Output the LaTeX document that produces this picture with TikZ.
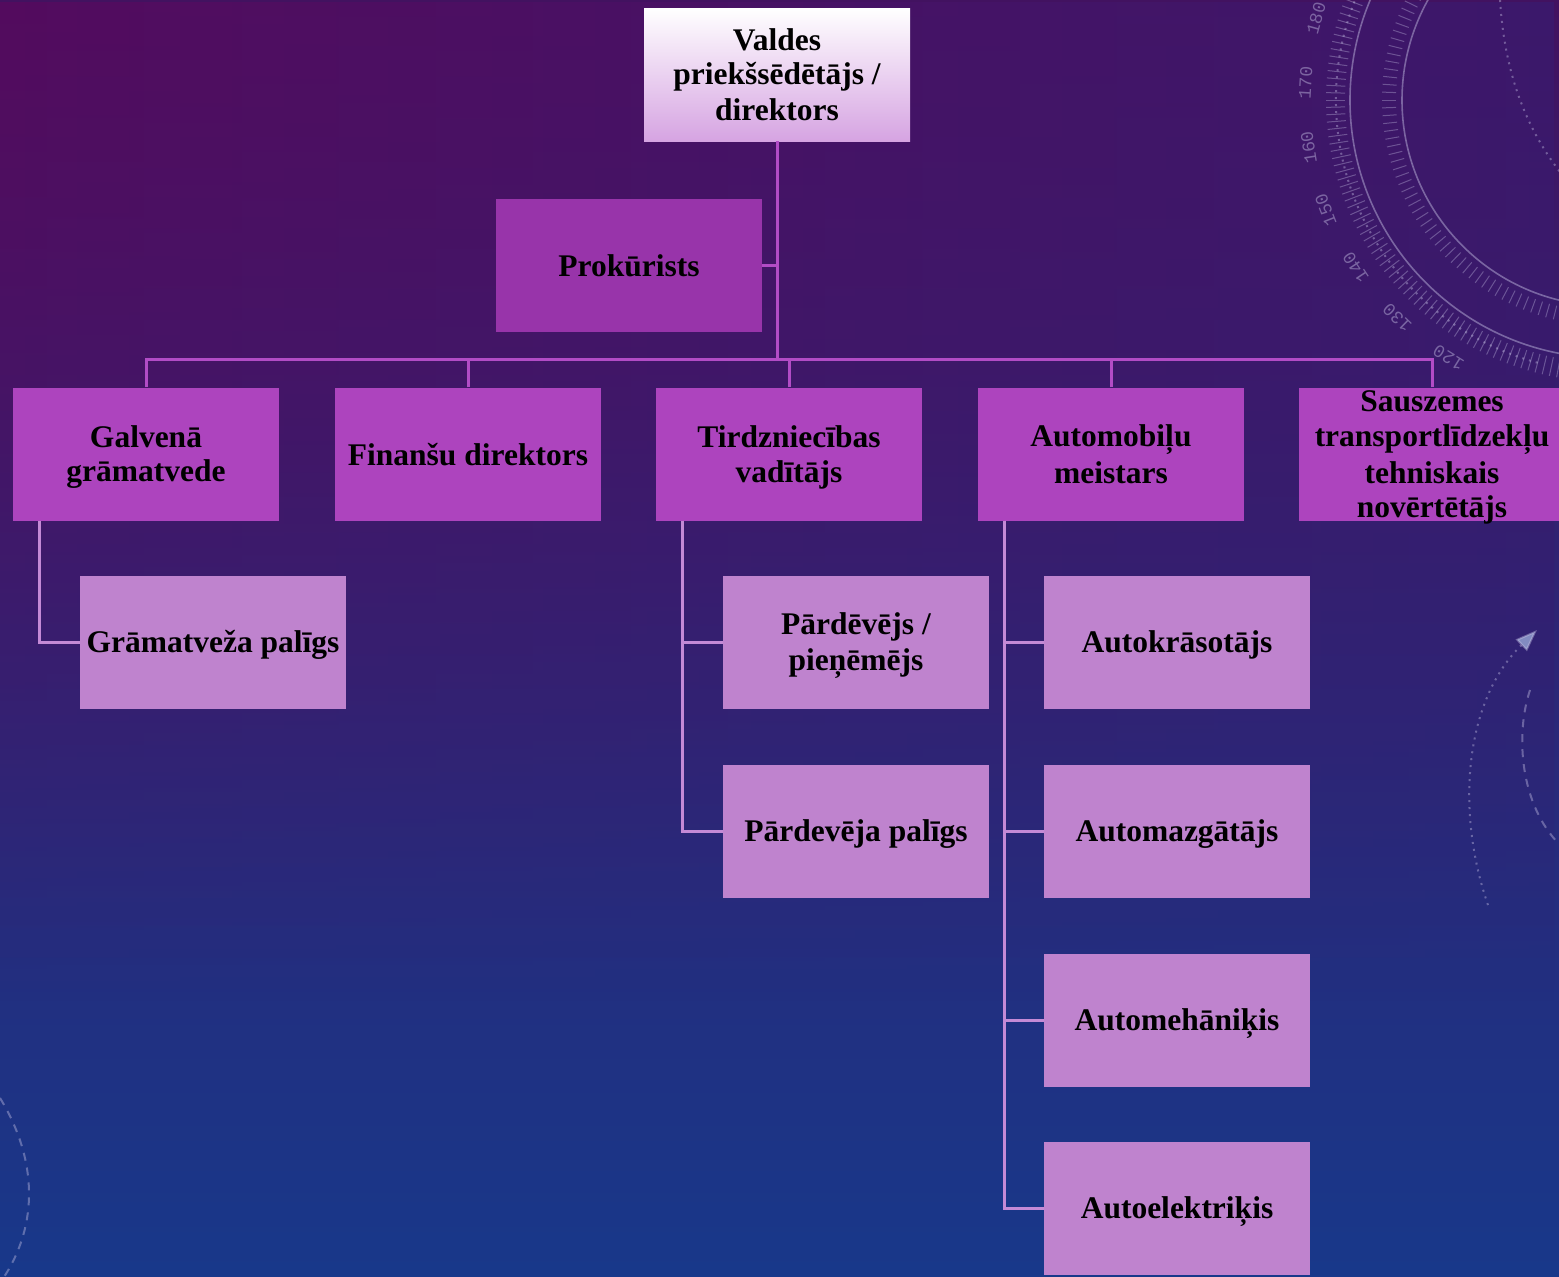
\documentclass[tikz,border=0pt]{standalone}
\usepackage{fontspec}
\setmainfont{Liberation Serif}
\newfontfamily\monofont{Liberation Mono}
\usetikzlibrary{fadings,arrows.meta}
\definecolor{bgtop}{RGB}{66,18,96}
\definecolor{bgmid}{RGB}{42,30,108}
\definecolor{bgbot}{RGB}{24,56,138}
\definecolor{bgmagL}{RGB}{88,10,94}
\definecolor{bgmagR}{RGB}{58,26,110}
\definecolor{topbot}{RGB}{214,164,226}
\definecolor{prokc}{RGB}{152,52,170}
\definecolor{lvtwo}{RGB}{173,68,190}
\definecolor{lvthree}{RGB}{191,131,206}
\definecolor{connA}{RGB}{178,76,198}
\definecolor{connB}{RGB}{196,138,214}
\definecolor{decoc}{RGB}{200,195,230}
\tikzfading[name=fadeDown, top color=transparent!0, bottom color=transparent!100]
\newcommand\bs{\rule[-6.25pt]{0pt}{34.5pt}}
\begin{document}
\begin{tikzpicture}[x=1pt,y=-1pt,
  boxtext/.style={inner sep=0pt, align=center, text=black,
    font=\fontsize{31.5}{34.5}\selectfont\bfseries},
  box/.style={boxtext, rectangle, minimum width=266pt, minimum height=133pt},
  lvltwo/.style={box, fill=lvtwo},
  lvlthree/.style={box, fill=lvthree},
  conn/.style={draw=connA, line width=3pt},
  subconn/.style={draw=connB, line width=3pt},
  deco/.style={draw=decoc, draw opacity=0.45, line width=1.6pt},
  tickmark/.style={draw=decoc, draw opacity=0.35, line width=1pt},
  decodots/.style={draw=decoc, draw opacity=0.4, line width=2pt, dash pattern=on 2pt off 5pt},
  decodash/.style={draw=decoc, draw opacity=0.4, line width=2pt, dash pattern=on 8pt off 7pt},
  numlbl/.style={text=decoc, text opacity=0.45, inner sep=0pt, font=\monofont\fontsize{18}{18}\selectfont}]
\useasboundingbox (0,0) rectangle (1559,1277);
\clip (0,0) rectangle (1559,1277);
% background
\shade[top color=bgtop, middle color=bgmid, bottom color=bgbot] (0,0) rectangle (1559,1277);
\shade[left color=bgmagL, right color=bgmagR, path fading=fadeDown, opacity=0.8] (0,0) rectangle (1559,1000);
% decorative dial, top right
\begin{scope}[shift={(1608,100)}]
  \draw[deco] (95:258) arc[start angle=95, end angle=235, radius=258];
  \draw[deco] (95:206) arc[start angle=95, end angle=245, radius=206];
  \foreach \a in {96,98,...,244} \draw[tickmark] (\a:212) -- (\a:226);
  \foreach \a in {96,97.5,...,232} \draw[tickmark] (\a:263) -- (\a:282);
  \draw[decodots] (105:272) arc[start angle=105, end angle=225, radius=272];
  \foreach \n in {120,130,...,180} {
    \pgfmathsetmacro\ang{121.8+(\n-120)*1.23}
    \node[numlbl, rotate=270-\ang] at (\ang:303) {\n};
  }
\end{scope}
\draw[decodots] (1500,0) .. controls (1505,80) and (1530,140) .. (1575,190);
% decorative arcs, bottom right and bottom left
\draw[decodots, -{Triangle[length=22pt,width=16pt,fill=decoc!60!bgbot]}] (1488,905) .. controls (1455,810) and (1465,700) .. (1537,630);
\draw[decodash] (1530,690) .. controls (1515,735) and (1520,805) .. (1560,845);
\draw[decodash] (0,1098) .. controls (38,1160) and (38,1225) .. (4,1277);
% nodes
\node[box, top color=white, bottom color=topbot] (chair) at (777,74.5) {\bs Valdes\\\bs priekšsēdētājs /\\\bs direktors};
\node[box, fill=prokc] (prok) at (629,265) {\bs Prokūrists};
\coordinate (bus) at (777,359);
\node[lvltwo] (galv) at (146,454) {\bs Galvenā\\\bs grāmatvede};
\node[lvltwo] (fin) at (468,454) {\bs Finanšu direktors};
\node[lvltwo] (tird) at (789,454) {\bs Tirdzniecības\\\bs vadītājs};
\node[lvltwo] (auto) at (1111,454) {\bs Automobiļu\\\bs meistars};
\node[lvltwo] (saus) at (1432,454) {};
\node[boxtext] (saustext) at (saus.center) {\bs Sauszemes\\\bs transportlīdzekļu\\\bs tehniskais\\\bs novērtētājs};
\node[lvlthree] (gram) at (213,642) {\bs Grāmatveža palīgs};
\node[lvlthree] (pard) at (856,642) {\bs Pārdēvējs /\\\bs pieņēmējs};
\node[lvlthree] (pardp) at (856,831) {\bs Pārdevēja palīgs};
\node[lvlthree] (kras) at (1177,642) {\bs Autokrāsotājs};
\node[lvlthree] (mazg) at (1177,831) {\bs Automazgātājs};
\node[lvlthree] (meh) at (1177,1020) {\bs Automehāniķis};
\node[lvlthree] (elek) at (1177,1208) {\bs Autoelektriķis};
% connectors
\draw[conn] (chair.south) -- (bus);
\draw[conn] (prok.east) -- (prok.east -| bus);
\draw[conn] (galv.north) |- (bus);
\draw[conn] (fin.north) |- (bus);
\draw[conn] (tird.north) |- (bus);
\draw[conn] (auto.north) |- (bus);
\draw[conn] (saus.north) |- (bus);
\draw[subconn] ([xshift=27pt]galv.south west) |- (gram.west);
\draw[subconn] ([xshift=27pt]tird.south west) |- (pard.west);
\draw[subconn] ([xshift=27pt]tird.south west) |- (pardp.west);
\draw[subconn] ([xshift=27pt]auto.south west) |- (kras.west);
\draw[subconn] ([xshift=27pt]auto.south west) |- (mazg.west);
\draw[subconn] ([xshift=27pt]auto.south west) |- (meh.west);
\draw[subconn] ([xshift=27pt]auto.south west) |- (elek.west);
\end{tikzpicture}
\end{document}
